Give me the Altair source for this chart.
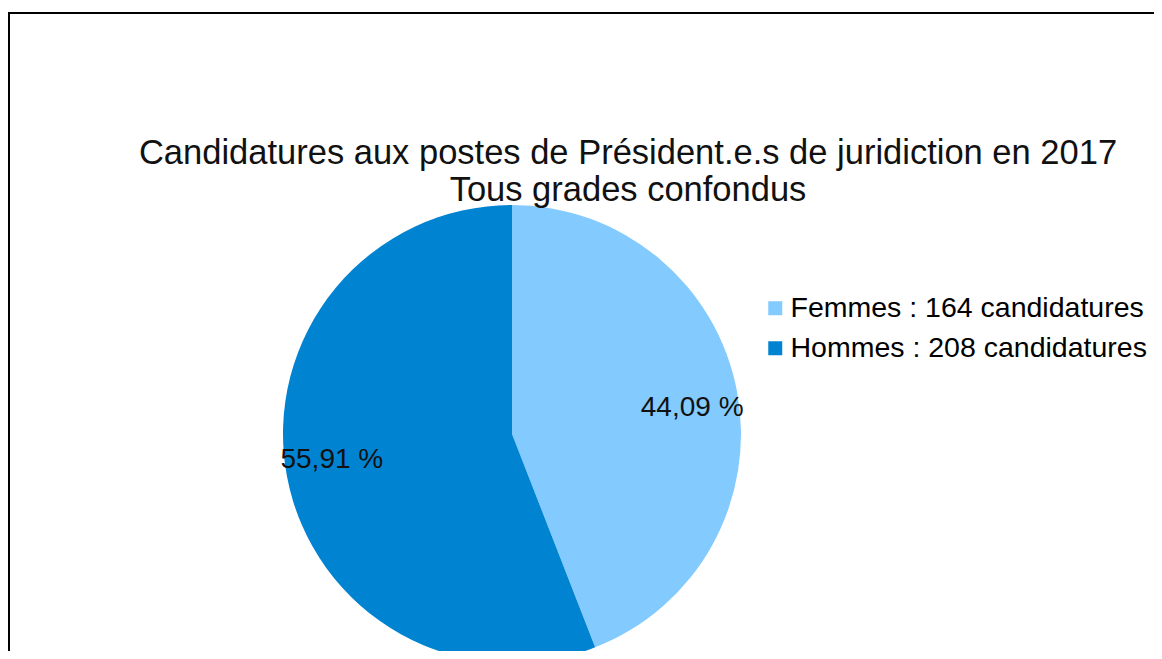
import altair as alt
import pandas as pd

categories = ["Femmes : 164 candidatures", "Hommes : 208 candidatures"]
counts = [164, 208]
pct_labels = ["44,09 %", "55,91 %"]
colors = ["#83CAFF", "#0084D1"]
title_lines = ["Candidatures aux postes de Président.e.s de juridiction en 2017",
               "Tous grades confondus"]

df = pd.DataFrame({"cat": categories, "n": counts, "label": pct_labels, "order": [0, 1]})

W, H = 1146, 643
CX, CY, R = 504, 426, 229
FONT = "Liberation Sans"

base = alt.Chart(df)

color = alt.Color(
    "cat:N",
    scale=alt.Scale(domain=categories, range=colors),
    legend=alt.Legend(
        title=None, orient="none", legendX=753, legendY=286,
        symbolType="square", symbolSize=196, symbolStrokeWidth=0,
        labelFontSize=28.5, labelFont=FONT, labelColor="#000000",
        rowPadding=11, labelOffset=1, labelLimit=600,
    ),
)

pie = base.mark_arc(outerRadius=R).encode(
    theta=alt.Theta("n:Q", stack=True),
    color=color,
    order=alt.Order("order:Q"),
    x=alt.value(CX),
    y=alt.value(CY),
)

labels = base.mark_text(radius=182, thetaOffset=0.044, fontSize=28, font=FONT,
                        color="#111111").encode(
    theta=alt.Theta("n:Q", stack=True),
    order=alt.Order("order:Q"),
    detail="cat:N",
    text="label:N",
    x=alt.value(CX),
    y=alt.value(CY),
)

one = alt.Chart(pd.DataFrame({"a": [0]}))

title = one.mark_text(fontSize=34.5, font=FONT, color="#111111", align="center",
                      baseline="middle", lineBreak="\n", lineHeight=37).encode(
    x=alt.value(620), y=alt.value(146), text=alt.value("\n".join(title_lines))
)

top_rule = one.mark_rule(color="#000000", strokeWidth=2).encode(
    x=alt.value(0), x2=alt.value(W), y=alt.value(5)
)
left_rule = one.mark_rule(color="#000000", strokeWidth=2).encode(
    x=alt.value(1), y=alt.value(4), y2=alt.value(H)
)

chart = alt.layer(top_rule, left_rule, pie, labels, title).properties(
    width=W, height=H,
    background="#ffffff",
    padding={"left": 0, "top": 0, "right": 0, "bottom": 0},
    autosize=alt.AutoSizeParams(type="none"),
).configure_view(stroke="transparent", strokeWidth=0)

chart.save("out.html", embed_options={"renderer": "svg", "actions": False})
